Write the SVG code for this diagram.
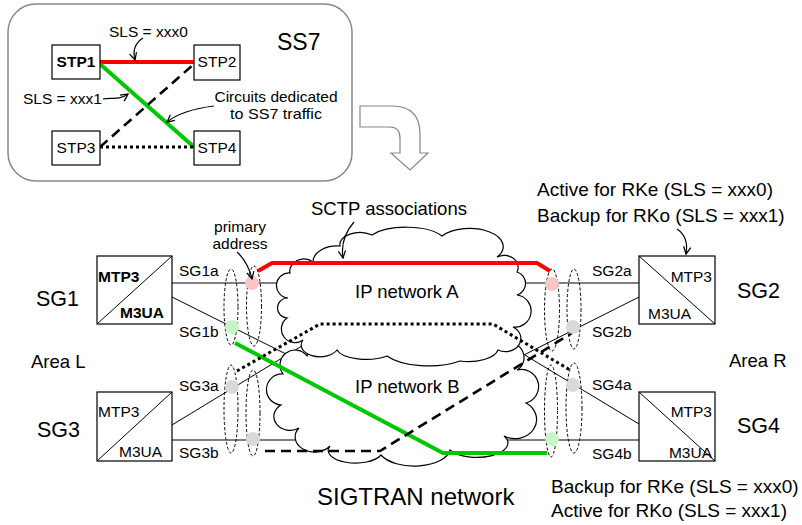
<svg xmlns="http://www.w3.org/2000/svg" width="802" height="525" viewBox="0 0 802 525">
<defs>
<style>
text{font-family:"Liberation Sans",Arial,Helvetica,sans-serif;fill:#000}
.t14{font-size:14.5px}
.t15{font-size:15.5px}
.t18{font-size:18.5px}
.t19{font-size:19px}
.t22{font-size:21.5px}
.b{font-weight:bold}
.mid{text-anchor:middle}
.end{text-anchor:end}
.box{fill:#fff;stroke:#000;stroke-width:1.2}
.wire{fill:none;stroke:#000;stroke-width:1}
.cloud{fill:#fff;stroke:#000;stroke-width:1.2}
.ell{fill:none;stroke:#000;stroke-width:1;stroke-dasharray:3 2}
.ptr{fill:none;stroke:#000;stroke-width:1.2;marker-end:url(#open)}
.red{fill:none;stroke:#ff0000;stroke-width:4}
.grn{fill:none;stroke:#00c800;stroke-width:4}
.dash{fill:none;stroke:#000;stroke-width:2.6;stroke-dasharray:10 6}
.dot{fill:none;stroke:#000;stroke-width:3;stroke-dasharray:3 3}
</style>
<marker id="open" viewBox="0 0 10 10" refX="9" refY="5" markerWidth="9" markerHeight="9" markerUnits="userSpaceOnUse" orient="auto">
<path d="M1,1 L9,5 L1,9" fill="none" stroke="#000" stroke-width="1.4"/>
</marker>
</defs>
<rect width="802" height="525" fill="#fff"/>

<!-- SS7 panel -->
<g id="ss7">
<rect x="8" y="4" width="344" height="177" rx="28" fill="#fff" stroke="#888" stroke-width="1.5"/>
<text x="277" y="50" style="font-size:23px">SS7</text>
</g>

<g id="ss7-links">
<line x1="100" y1="62" x2="194" y2="62" class="red" stroke-width="3.5"/>
<line x1="100" y1="64" x2="194" y2="147" class="grn" stroke-width="3.5"/>
<line x1="100" y1="147" x2="194" y2="64" class="dash" stroke-width="2.5" stroke-dasharray="8 5"/>
<line x1="100" y1="147" x2="194" y2="147" class="dot" stroke-width="2.5" stroke-dasharray="2.5 2.5"/>
<path class="ptr" d="M143,38 Q131,46 135,60"/>
<path class="ptr" d="M103,99 C112,97 118,101 128,94"/>
<path class="ptr" d="M214,106 Q182,110 167,122"/>
</g>
<g id="stp1"><rect class="box" x="52" y="45" width="48" height="34"/><text class="t15 b mid" x="76" y="67">STP1</text></g>
<g id="stp2"><rect class="box" x="194" y="45" width="46" height="35"/><text class="t15 mid" x="217" y="67">STP2</text></g>
<g id="stp3"><rect class="box" x="52" y="131" width="48" height="34"/><text class="t15 mid" x="76" y="153">STP3</text></g>
<g id="stp4"><rect class="box" x="194" y="131" width="46" height="34"/><text class="t15 mid" x="217" y="153">STP4</text></g>
<text class="t15" x="109" y="37">SLS = xxx0</text>
<text class="t15" x="23" y="104">SLS = xxx1</text>
<text class="t14 mid" x="276" y="102" textLength="123" lengthAdjust="spacingAndGlyphs">Circuits dedicated</text>
<text class="t14 mid" x="276" y="118.5" textLength="92" lengthAdjust="spacingAndGlyphs">to SS7 traffic</text>

<!-- hollow bent arrow -->
<path d="M360,106 L392,106 Q420,106 420,134 L420,153 L428,153 L410,170 L391,153 L400,153 L400,138 Q400,127 390,127 L360,127 Z" fill="#fff" stroke="#888" stroke-width="1.2"/>

<!-- access wires (under the clouds) -->
<g id="wires">
<line class="wire" x1="172" y1="283" x2="300" y2="283"/>
<line class="wire" x1="172" y1="297" x2="310" y2="366"/>
<line class="wire" x1="172" y1="425" x2="315" y2="338"/>
<line class="wire" x1="172" y1="440" x2="320" y2="440"/>
<line class="wire" x1="510" y1="283" x2="639" y2="283"/>
<line class="wire" x1="639" y1="297" x2="500" y2="367"/>
<line class="wire" x1="639" y1="424" x2="500" y2="340"/>
<line class="wire" x1="500" y1="440" x2="639" y2="440"/>
</g>

<!-- IP clouds -->
<g id="ip-network-b">
<path class="cloud" d="M310,345 L502,345 A14,14 0 0 1 517,370 A14,14 0 0 1 526,403 A18,16 0 0 1 504,436 A30,14 0 0 1 450,450 A36,18 0 0 1 381,455 A26,12 0 0 1 330,446 A18,14 0 0 1 299,428 A14,12 0 0 1 281,405 A12,12 0 0 1 283,374 A14,14 0 0 1 307,356 Z"/>
<text class="t18" x="355" y="393">IP network B</text>
</g>
<g id="ip-network-a">
<path class="cloud" d="M303,340 A12,12 0 0 1 287,318 A10,10 0 0 1 288,298 A12,12 0 0 1 290,273 A14,12 0 0 1 313,262 A24,16 0 0 1 340,246 A20,12 0 0 1 372,235 A40,16 0 0 1 442,236 A26,14 0 0 1 497,257 A14,12 0 0 1 517,272 A12,12 0 0 1 517,295 A16,16 0 0 1 513,327 A14,12 0 0 1 498,350 A30,14 0 0 1 460,361 A48,20 0 0 1 387,356 A30,12 0 0 1 337,350 A16,10 0 0 1 303,340 Z"/>
<text class="t18" x="355" y="298">IP network A</text>
</g>

<!-- SCTP associations -->
<g id="associations">
<polyline class="red" points="258,271 272,263 537,263 550,271"/>
<polyline class="grn" points="235,343 443,453 547,453"/>
<polyline class="dot" points="237,371 320,324 493,324 570,370"/>
<polyline class="dash" points="265,451 380,451 572,333"/>
</g>

<!-- endpoint address sets -->
<g id="addresses">
<ellipse class="ell" cx="231" cy="307" rx="7" ry="38"/>
<ellipse class="ell" cx="254" cy="306" rx="7.5" ry="40"/>
<ellipse class="ell" cx="231" cy="409" rx="7" ry="44"/>
<ellipse class="ell" cx="253" cy="413" rx="7" ry="43"/>
<ellipse class="ell" cx="552" cy="310" rx="7.5" ry="41"/>
<ellipse class="ell" cx="574" cy="309" rx="7" ry="40"/>
<ellipse class="ell" cx="551" cy="411" rx="6.5" ry="46" stroke="#00c800"/>
<ellipse class="ell" cx="574" cy="408" rx="8" ry="45"/>
<circle cx="252" cy="283" r="7" fill="#f8c6c6"/>
<circle cx="232" cy="327" r="7" fill="#c6f5c6"/>
<circle cx="232" cy="387" r="7" fill="#d9d9d9"/>
<circle cx="253" cy="439" r="7" fill="#d9d9d9"/>
<circle cx="552" cy="284" r="7" fill="#f8c6c6"/>
<circle cx="573" cy="327" r="7" fill="#d9d9d9"/>
<circle cx="573" cy="385" r="7" fill="#d9d9d9"/>
<circle cx="552" cy="439" r="7" fill="#c6f5c6"/>
</g>

<!-- signalling gateways -->
<g id="sg1">
<rect class="box" x="97" y="256" width="75" height="68"/>
<line class="wire" x1="97" y1="324" x2="172" y2="256"/>
<text class="t15 b" x="98" y="282">MTP3</text>
<text class="t15 b" x="120" y="318">M3UA</text>
<text class="t22" x="36" y="306">SG1</text>
<text class="t15" x="179" y="276">SG1a</text>
<text class="t15" x="179" y="337">SG1b</text>
</g>
<g id="sg3">
<rect class="box" x="97" y="392" width="75" height="69"/>
<line class="wire" x1="97" y1="461" x2="172" y2="392"/>
<text class="t15" x="98" y="417">MTP3</text>
<text class="t15" x="119" y="457">M3UA</text>
<text class="t22" x="37" y="437">SG3</text>
<text class="t15" x="179" y="391">SG3a</text>
<text class="t15" x="179" y="458">SG3b</text>
</g>
<g id="sg2">
<rect class="box" x="639" y="256" width="76" height="68"/>
<line class="wire" x1="639" y1="256" x2="715" y2="324"/>
<text class="t15 end" x="712" y="282">MTP3</text>
<text class="t15" x="648" y="319">M3UA</text>
<text class="t22" x="737" y="298">SG2</text>
<text class="t15" x="592" y="276">SG2a</text>
<text class="t15" x="592" y="337">SG2b</text>
</g>
<g id="sg4">
<rect class="box" x="639" y="392" width="76" height="69"/>
<line class="wire" x1="639" y1="392" x2="715" y2="461"/>
<text class="t15 end" x="712" y="417">MTP3</text>
<text class="t15 end" x="712" y="458">M3UA</text>
<text class="t22" x="737" y="433">SG4</text>
<text class="t15" x="592" y="390">SG4a</text>
<text class="t15" x="592" y="459">SG4b</text>
</g>

<!-- annotations -->
<g id="labels">
<text class="t18" x="311" y="215">SCTP associations</text>
<path class="ptr" d="M354,222 Q340,238 343,258"/>
<text class="t14 mid" x="240" y="232" textLength="52" lengthAdjust="spacingAndGlyphs">primary</text>
<text class="t14 mid" x="240" y="248.5" textLength="55" lengthAdjust="spacingAndGlyphs">address</text>
<path class="ptr" d="M237,252 Q248,262 252,279"/>
<text class="t19" x="537" y="196">Active for RKe (SLS = xxx0)</text>
<text class="t19" x="537" y="222">Backup for RKo (SLS = xxx1)</text>
<path class="ptr" d="M677,229 Q689,237 686,254"/>
<text class="t18" x="31" y="368">Area L</text>
<text class="t18" x="729" y="367">Area R</text>
<text x="317" y="505" style="font-size:24px">SIGTRAN network</text>
<text class="t19" x="551" y="493">Backup for RKe (SLS = xxx0)</text>
<text class="t19" x="551" y="517">Active for RKo (SLS = xxx1)</text>
</g>
</svg>
